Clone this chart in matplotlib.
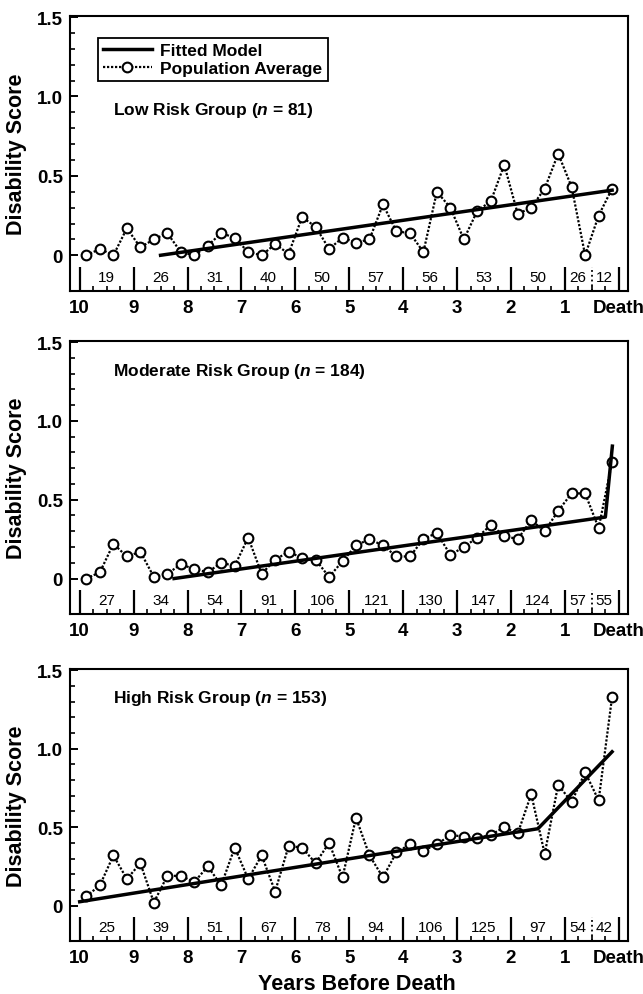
import matplotlib
matplotlib.use("Agg")
import matplotlib.pyplot as plt
import numpy as np

plt.rcParams['font.family'] = ['Liberation Sans', 'DejaVu Sans']
plt.rcParams['mathtext.fontset'] = 'custom'
plt.rcParams['mathtext.it'] = 'Liberation Sans:bold:italic'
plt.rcParams['mathtext.rm'] = 'Liberation Sans:bold'

# quarter-year bins (years before death)
years = [9.875, 9.625, 9.375, 9.125, 8.875, 8.625, 8.375, 8.125,
         7.875, 7.625, 7.375, 7.125, 6.875, 6.625, 6.375, 6.125,
         5.875, 5.625, 5.375, 5.125, 4.875, 4.625, 4.375, 4.125,
         3.875, 3.625, 3.375, 3.125, 2.875, 2.625, 2.375, 2.125,
         1.875, 1.625, 1.375, 1.125, 0.875, 0.625, 0.375, 0.125]

low_avg = [0.0, 0.04, 0.0, 0.17, 0.05, 0.10, 0.14, 0.02, 0.0, 0.06,
           0.14, 0.11, 0.02, 0.0, 0.07, 0.01, 0.24, 0.18, 0.04, 0.11,
           0.08, 0.10, 0.32, 0.15, 0.14, 0.02, 0.40, 0.30, 0.10, 0.28,
           0.34, 0.57, 0.26, 0.30, 0.42, 0.64, 0.43, 0.0, 0.25, 0.42]
mod_avg = [0.0, 0.04, 0.22, 0.14, 0.17, 0.01, 0.03, 0.09, 0.06, 0.04,
           0.10, 0.08, 0.26, 0.03, 0.12, 0.17, 0.13, 0.12, 0.01, 0.11,
           0.21, 0.25, 0.21, 0.14, 0.14, 0.25, 0.29, 0.15, 0.20, 0.26,
           0.34, 0.27, 0.25, 0.37, 0.30, 0.43, 0.54, 0.54, 0.32, 0.74]
high_avg = [0.06, 0.13, 0.32, 0.17, 0.27, 0.02, 0.19, 0.19, 0.15, 0.25,
            0.13, 0.37, 0.17, 0.32, 0.09, 0.38, 0.37, 0.27, 0.40, 0.18,
            0.56, 0.32, 0.18, 0.34, 0.39, 0.35, 0.39, 0.45, 0.44, 0.43,
            0.45, 0.50, 0.46, 0.71, 0.33, 0.77, 0.66, 0.85, 0.67, 1.33]

# fitted model (piecewise linear)
low_fit_x = [8.5, 0.125]
low_fit_y = [0.0, 0.41]
mod_fit_x = [8.25, 0.25, 0.12]
mod_fit_y = [0.0, 0.39, 0.84]
high_fit_x = [10.0, 1.5, 0.125]
high_fit_y = [0.025, 0.49, 0.98]

# number of subjects per interval
low_n = [19, 26, 31, 40, 50, 57, 56, 53, 50, 26, 12]
mod_n = [27, 34, 54, 91, 106, 121, 130, 147, 124, 57, 55]
high_n = [25, 39, 51, 67, 78, 94, 106, 125, 97, 54, 42]

titles = ["Low Risk Group ($\\mathit{n}$ = 81)",
          "Moderate Risk Group ($\\mathit{n}$ = 184)",
          "High Risk Group ($\\mathit{n}$ = 153)"]

n_pos = [9.5, 8.5, 7.5, 6.5, 5.5, 4.5, 3.5, 2.5, 1.5, 0.76, 0.27]
xtick_labels = ['10', '9', '8', '7', '6', '5', '4', '3', '2', '1', 'Death']

fig = plt.figure(figsize=(6.43, 9.95), dpi=100)
W, H = 643, 995
boxes = [(17, 292), (342, 615), (670, 942)]
avgs = [low_avg, mod_avg, high_avg]
fits = [(low_fit_x, low_fit_y), (mod_fit_x, mod_fit_y), (high_fit_x, high_fit_y)]
ns = [low_n, mod_n, high_n]
title_y = [0.92, 1.32, 1.325]

for i in range(3):
    top, bot = boxes[i]
    ax = fig.add_axes([70 / W, 1 - bot / H, 558 / W, (bot - top) / H])
    ymin = -0.225
    ax.set_xlim(10.18, -0.17)
    ax.set_ylim(ymin, 1.507)

    ax.plot(years, avgs[i], linestyle=(0, (1, 0.8)), color='k', lw=1.6, marker='o',
            ms=7, mfc='white', mec='k', mew=1.5, label='Population Average', zorder=3)
    ax.plot(fits[i][0], fits[i][1], '-', color='k', lw=2.5, label='Fitted Model', zorder=4)

    # count strip
    ax.vlines(range(0, 11), ymin, -0.075, color='k', lw=1.6)
    ax.vlines(0.5, ymin, -0.075, color='k', lw=1.3, linestyles=':')
    for p, n in zip(n_pos, ns[i]):
        ax.text(p, -0.135, str(n), ha='center', va='center', fontsize=11)

    ax.text(9.38, title_y[i], titles[i], ha='left', va='center',
            fontsize=12.5, fontweight='bold')

    ax.set_xticks(range(10, -1, -1))
    ax.set_xticklabels(xtick_labels)
    ax.set_xticks(np.arange(0, 10.01, 0.25), minor=True)
    ax.set_yticks([0, 0.5, 1.0, 1.5])
    ax.set_yticklabels(['0', '0.5', '1.0', '1.5'])
    ax.set_yticks(np.arange(0, 1.51, 0.1), minor=True)
    ax.tick_params(axis='x', which='major', length=0, pad=6, labelsize=13.5)
    ax.tick_params(axis='x', which='minor', direction='in', length=3.5, width=1.2)
    ax.tick_params(axis='y', which='major', direction='in', length=6, width=1.4,
                   pad=5, labelsize=13.5)
    ax.tick_params(axis='y', which='minor', direction='in', length=3.5, width=1.2)
    for lab in ax.get_xticklabels() + ax.get_yticklabels():
        lab.set_fontweight('bold')
    for s in ax.spines.values():
        s.set_linewidth(1.5)

    ax.set_ylabel('Disability Score', fontsize=15.5, fontweight='bold', labelpad=7)

    if i == 0:
        h, l = ax.get_legend_handles_labels()
        leg = ax.legend(h[::-1], l[::-1], loc='upper left', bbox_to_anchor=(0.05, 0.92),
                        frameon=True, fancybox=False, edgecolor='k', framealpha=1,
                        borderpad=0.3, handlelength=2.8, handletextpad=0.5,
                        labelspacing=0.15, borderaxespad=0,
                        prop={'weight': 'bold', 'size': 12.5})
        leg.get_frame().set_linewidth(1.3)

fig.text(357 / W, 1 - 985 / H, 'Years Before Death', ha='center', va='center',
         fontsize=15.5, fontweight='bold')

fig.savefig('out.png', dpi=100)
